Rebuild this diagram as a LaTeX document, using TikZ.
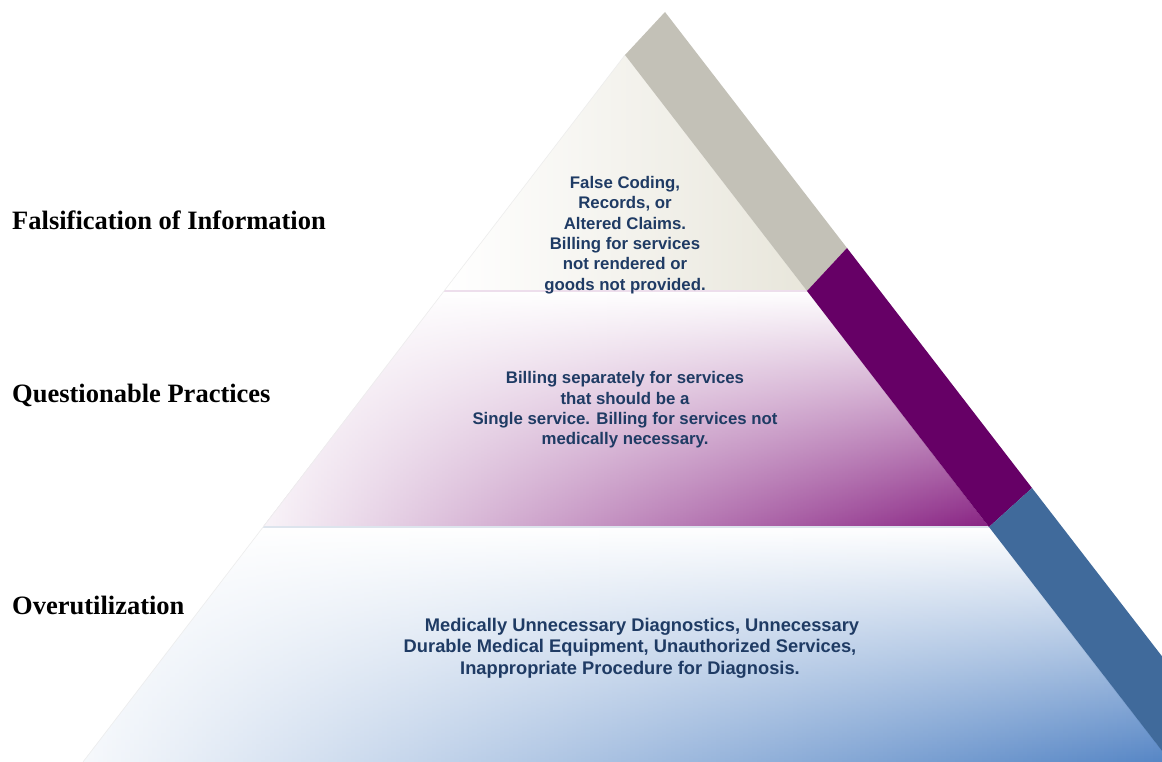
\documentclass[tikz,border=0pt]{standalone}
\usepackage{fontspec}
\setmainfont{Liberation Serif}
\newfontfamily\tierfont{Liberation Sans}
\usetikzlibrary{fadings}
\definecolor{cstone}{HTML}{C3C1B7}
\definecolor{cplum}{HTML}{660066}
\definecolor{csteel}{HTML}{406A9B}
\definecolor{csand}{HTML}{E8E6DB}
\definecolor{cmauve}{HTML}{882383}
\definecolor{csky}{HTML}{5585C5}
\definecolor{cink}{HTML}{1F3B64}
\tikzfading[name=fade right, left color=transparent!5, right color=transparent!100]

\begin{document}
\begin{tikzpicture}[x=1pt, y=-1pt,
    lbl/.style={anchor=west, inner sep=0pt, font=\bfseries\fontsize{26.5}{30}\selectfont},
    tiertxt/.style={align=center, inner sep=0pt, text=cink,
                    font=\tierfont\bfseries\fontsize{16.8}{20.3}\selectfont},
    sep/.style={line width=1.2pt},
  ]
  % the page, in pixels of the slide
  \clip (0,0) rectangle (1162,762);
  \fill[white] (0,0) rectangle (1162,762);
  % corner points of the pyramid
  \coordinate (apex) at (625,55);
  \coordinate (l1) at (444,291);
  \coordinate (r1) at (807,291);
  \coordinate (l2) at (263,527);
  \coordinate (r2) at (989,527);
  \coordinate (l3) at (83,762);
  \coordinate (r3) at (1171,762);
  % == the three tiers
  \shade[left color=white, right color=csand] (apex) -- (r1) -- (l1) -- cycle;
  \shade[top color=white, middle color=cmauve!38, bottom color=cmauve]
    (l1) -- (r1) -- (r2) -- (l2) -- cycle;
  \fill[white, path fading=fade right] (l1) -- (r1) -- (r2) -- (l2) -- cycle;
  \shade[top color=white, middle color=csky!30, bottom color=csky]
    (l2) -- (r2) -- (r3) -- (l3) -- cycle;
  \fill[white, path fading=fade right] (l2) -- (r2) -- (r3) -- (l3) -- cycle;
  \draw[sep, draw=cmauve!15] (l1) -- (r1);
  \draw[sep, draw=csteel!18] (l2) -- (r2);
  \draw[line width=0.6pt, draw=black!7] (apex) -- (l3);
  % == the slanted band on the right side
  \coordinate (b0) at (665,12);
  \coordinate (b1) at (847,248);
  \coordinate (b2) at (1032,488);
  \fill[cstone] (apex) -- (b0) -- (b1) -- (r1) -- cycle;
  \fill[cplum] (r1) -- (b1) -- (b2) -- (r2) -- cycle;
  \fill[csteel] (r2) -- (b2) -- (1273,800) -- (1200,800) -- cycle;
  % == labels on the left
  \node[lbl] (lblfals) at (12,220) {Falsification of Information};
  \node[lbl] (lblquest) at (12,395) {Questionable Practices};
  \node[lbl] (lbloveru) at (12,605) {Overutilization};
  % == texts inside the tiers
  \node[tiertxt] (txtfals) at (625,235)
    {False Coding,\\Records, or\\Altered Claims.\\Billing for services\\not rendered or\\goods not provided.};
  \node[tiertxt] (txtquest) at (625,410)
    {Billing separately for services\\that should be a\\Single service. Billing for services not\\medically necessary.};
  \node[tiertxt, font=\tierfont\bfseries\fontsize{18.3}{21.6}\selectfont] (txtoveru) at (630,648)
    {\hspace*{24pt}Medically Unnecessary Diagnostics, Unnecessary\\
     Durable Medical Equipment, Unauthorized Services,\hspace*{14pt}\\
     Inappropriate Procedure for Diagnosis.};
\end{tikzpicture}
\end{document}
